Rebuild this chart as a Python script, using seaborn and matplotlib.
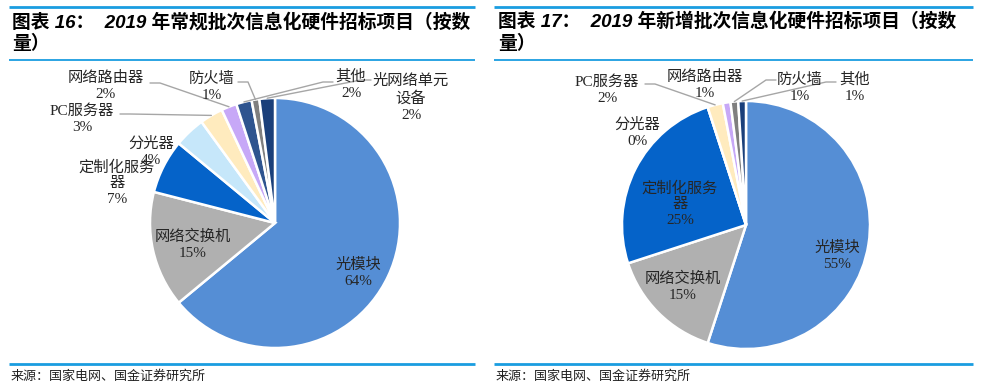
import matplotlib
matplotlib.use('Agg')
import matplotlib.pyplot as plt
import seaborn as sns
import numpy as np

# 数据
left_names = ['光模块', '网络交换机', '定制化服务器', '分光器', 'PC服务器', '网络路由器', '其他', '防火墙', '光网络单元设备']
left_values = [64, 15, 7, 4, 3, 2, 2, 1, 2]
right_names = ['光模块', '网络交换机', '定制化服务器', '分光器', 'PC服务器', '网络路由器', '防火墙', '其他']
right_values = [55, 15, 25, 0, 2, 1, 1, 1]

left_title = '图表 16：  2019 年常规批次信息化硬件招标项目（按数\n量）'
right_title = '图表 17：  2019 年新增批次信息化硬件招标项目（按数\n量）'
source = '来源：国家电网、国金证券研究所'

left_colors = ['#558ED5', '#B0B0B0', '#0563C9', '#C6E7FA', '#FFEBBE', '#C7A8F7', '#2E548F', '#7F7F7F', '#1A3F7A']
right_colors = ['#558ED5', '#B0B0B0', '#0563C9', '#C6E7FA', '#FFEBBE', '#C7A8F7', '#7F7F7F', '#1A3F7A']

wrap = {'定制化服务器': '定制化服务\n器', '光网络单元设备': '光网络单元\n设备'}

# 布局（像素，图片坐标）
W, H = 983, 389
left_pos = [(358, 273), (193, 245), (117, 183), (151, 152), (82, 119), (106, 86), (351, 85), (212, 87), (411, 98)]
right_pos = [(837, 256), (683, 287), (680, 204), (637, 133), (607, 90), (705, 85), (800, 88), (855, 88)]
left_lead = [None, None, None, None, (120, 114), (150, 83), (333, 82), (238, 82), (371, 80)]
right_lead = [None, None, None, None, (645, 84), None, (776, 80), (836, 82)]

sns.set_theme(style='white')
plt.rcParams['font.family'] = ['Liberation Serif', 'Noto Sans CJK SC']

fig = plt.figure(figsize=(W / 100, H / 100), dpi=100)
ax = fig.add_axes([0, 0, 1, 1])

label_font = ['Liberation Serif', 'Noto Sans CJK SC']
blue = '#1A9DE0'


def draw_pie(values, names, colors, center, radius, pos, lead):
    wedges, _ = ax.pie(values, colors=colors, startangle=90, counterclock=False,
                       center=(center[0], H - center[1]), radius=radius,
                       wedgeprops=dict(edgecolor='white', linewidth=1.8))
    total = sum(values)
    for w, name, v, p, ld in zip(wedges, names, values, pos, lead):
        txt = '%s\n%d%%' % (wrap.get(name, name), round(v / total * 100))
        ax.text(p[0], H - p[1], txt, ha='center', va='center', fontsize=11,
                family=label_font, color='#262626', linespacing=1.3)
        if ld is not None:
            mid = np.deg2rad((w.theta1 + w.theta2) / 2)
            tx = w.center[0] + w.r * np.cos(mid)
            ty = w.center[1] + w.r * np.sin(mid)
            sx, sy = ld[0], H - ld[1]
            step = 10 if tx > sx else -10
            ax.plot([sx, sx + step, tx], [sy, sy, ty], color='#A6A6A6', lw=1)


draw_pie(left_values, left_names, left_colors, (275, 223), 125, left_pos, left_lead)
draw_pie(right_values, right_names, right_colors, (746, 225), 124, right_pos, right_lead)

ax.set_xlim(0, W)
ax.set_ylim(0, H)
ax.set_aspect('auto')
ax.axis('off')

# 框线、标题、来源
for x0, x1, title, tx in [(9, 475, left_title, 12), (494, 973, right_title, 498)]:
    ax.plot([x0, x1], [H - 7, H - 7], color=blue, lw=2, solid_capstyle='butt')
    ax.plot([x0, x1], [H - 60, H - 60], color=blue, lw=1.3, solid_capstyle='butt')
    ax.plot([x0, x1], [H - 364, H - 364], color=blue, lw=2, solid_capstyle='butt')
    ax.text(tx, H - 33, title, ha='left', va='center', fontsize=13.5, fontweight='bold',
            fontstyle='italic', family=['Liberation Sans', 'Noto Sans CJK SC'],
            color='black', linespacing=1.25)
    ax.text(x0 + 2, H - 376, source, ha='left', va='center', fontsize=9.4,
            family=['Noto Sans CJK SC'], color='#222222')

fig.savefig('out.png', dpi=100)
